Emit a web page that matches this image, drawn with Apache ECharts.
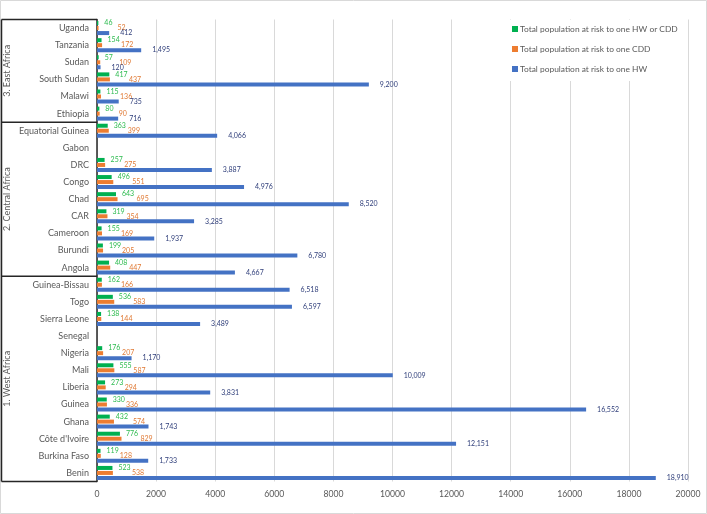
<!DOCTYPE html>
<html><head><meta charset="utf-8">
<script src="https://cdn.jsdelivr.net/npm/echarts@6/dist/echarts.min.js"></script>
<style>html,body{margin:0;padding:0;background:#fff}#c{width:707px;height:514px}</style>
</head><body><div id="c"></div>
<script>
const categories = ['Benin','Burkina Faso',"Côte d'Ivoire",'Ghana','Guinea','Liberia','Mali','Nigeria','Senegal','Sierra Leone','Togo','Guinea-Bissau','Angola','Burundi','Cameroon','CAR','Chad','Congo','DRC','Gabon','Equatorial Guinea','Ethiopia','Malawi','South Sudan','Sudan','Tanzania','Uganda'];
const hwOrCdd = [523,119,776,432,330,273,555,176,null,138,536,162,408,199,155,319,643,496,257,null,363,80,115,417,57,154,46];
const cdd = [538,128,829,574,336,294,587,207,null,144,583,166,447,205,169,354,695,551,275,null,399,90,136,437,109,172,52];
const hw = [18910,1733,12151,1743,16552,3831,10009,1170,null,3489,6597,6518,4667,6780,1937,3285,8520,4976,3887,null,4066,716,735,9200,120,1495,412];
const xTicks = [0,2000,4000,6000,8000,10000,12000,14000,16000,18000,20000];
const groups = [
  {name:'1. West Africa', from:0, to:11},
  {name:'2. Central Africa', from:12, to:20},
  {name:'3. East Africa', from:21, to:26}
];
const seriesNames = ['Total population at risk to one HW or CDD','Total population at risk to one CDD','Total population at risk to one HW'];

const ctx = document.createElement('canvas').getContext('2d');
function w(font, s){ ctx.font = font; return ctx.measureText(s).width; }
function has(f){
  const s = 'Equatorial Guinea mmmwwiil';
  return w("20px '"+f+"', monospace", s) !== w('20px monospace', s) || w("20px '"+f+"', serif", s) !== w('20px serif', s);
}
const candidates = ['Liberation Sans Narrow','Lato','Liberation Sans'];
let fam = candidates.find(has) || 'sans-serif';
const FONT = "'" + fam + "', sans-serif";
const baseW = w("10px " + FONT, 'Equatorial Guinea');
const catSize = Math.max(9, Math.min(10.5, 10 * 70 / baseW));
const legSize = 10 * (158 / w("10px " + FONT, seriesNames[0]));
const tickSize = Math.min(10.5, 10 * (25 / w("10px " + FONT, '20000')));
const lblSize = 7;

const chart = echarts.init(document.getElementById('c'));
const fmt = p => p.value == null ? '' : Number(p.value).toLocaleString('en-US');
function mk(name, data, color, lblColor, dist){
  return {name, type:'bar', data, barWidth:4, barGap:'25%',
    itemStyle:{color},
    label:{show:true, position:'right', distance:dist, formatter:fmt, fontSize:lblSize, color:lblColor, fontFamily:FONT}};
}
chart.setOption({
  animation:false,
  textStyle:{fontFamily:FONT},
  grid:{left:97, right:19, top:19.5, bottom:32.5, containLabel:false},
  legend:{orient:'vertical', left:508, top:20, itemWidth:6, itemHeight:6, itemGap:12,
    backgroundColor:'#fff', padding:[5,8,8,4],
    textStyle:{fontSize:legSize, color:'#595959', fontFamily:FONT, padding:[0,0,0,-3]},
    data:seriesNames.map(n=>({name:n, icon:'rect'}))},
  xAxis:{type:'value', min:xTicks[0], max:xTicks[xTicks.length-1], interval:2000,
    axisLine:{show:false}, axisTick:{show:false},
    axisLabel:{fontSize:tickSize, color:'#595959', margin:8, formatter:v=>String(v)},
    splitLine:{lineStyle:{color:'#d9d9d9', width:1}}},
  yAxis:{type:'category', data:categories,
    axisLine:{lineStyle:{color:'#262626', width:1.5}}, axisTick:{show:false},
    axisLabel:{fontSize:catSize, color:'#595959', margin:8}},
  series:[
    mk(seriesNames[0], hwOrCdd, '#00b050', '#2dbb4f', 6),
    mk(seriesNames[1], cdd, '#ed7d31', '#e07a35', 19),
    mk(seriesNames[2], hw, '#4472c4', '#2f3e7a', 11)
  ]
});

function drawDeco(){
  const yOf = i => chart.convertToPixel({yAxisIndex:0}, categories[i]);
  const half = (yOf(0) - yOf(1)) / 2;
  const xAxisPx = chart.convertToPixel({xAxisIndex:0}, 0);
  const leftX = 1.5;
  const els = [];
  const topY = yOf(categories.length-1) - half;
  const botY = yOf(0) + half;
  const lineStyle = {stroke:'#262626', lineWidth:1.5};
  els.push({type:'line', shape:{x1:leftX,y1:topY,x2:leftX,y2:botY}, style:lineStyle});
  els.push({type:'line', shape:{x1:leftX,y1:topY,x2:xAxisPx,y2:topY}, style:lineStyle});
  els.push({type:'line', shape:{x1:leftX,y1:botY,x2:xAxisPx,y2:botY}, style:lineStyle});
  groups.forEach((g, gi) => {
    const y1 = yOf(g.to) - half, y2 = yOf(g.from) + half;
    if (gi > 0) els.push({type:'line', shape:{x1:leftX,y1:y2,x2:xAxisPx,y2:y2}, style:lineStyle});
    els.push({type:'text', x:7.5, y:(y1+y2)/2, rotation:Math.PI/2,
      style:{text:g.name, fontSize:catSize, fill:'#595959', fontFamily:FONT, align:'center', verticalAlign:'middle'}});
  });
  els.push({type:'rect', shape:{x:0.5,y:0.5,width:706,height:513}, style:{fill:null, stroke:'#d9d9d9', lineWidth:1}, z:-10});
  chart.setOption({graphic:{elements:els}});
}
drawDeco();
</script></body></html>
